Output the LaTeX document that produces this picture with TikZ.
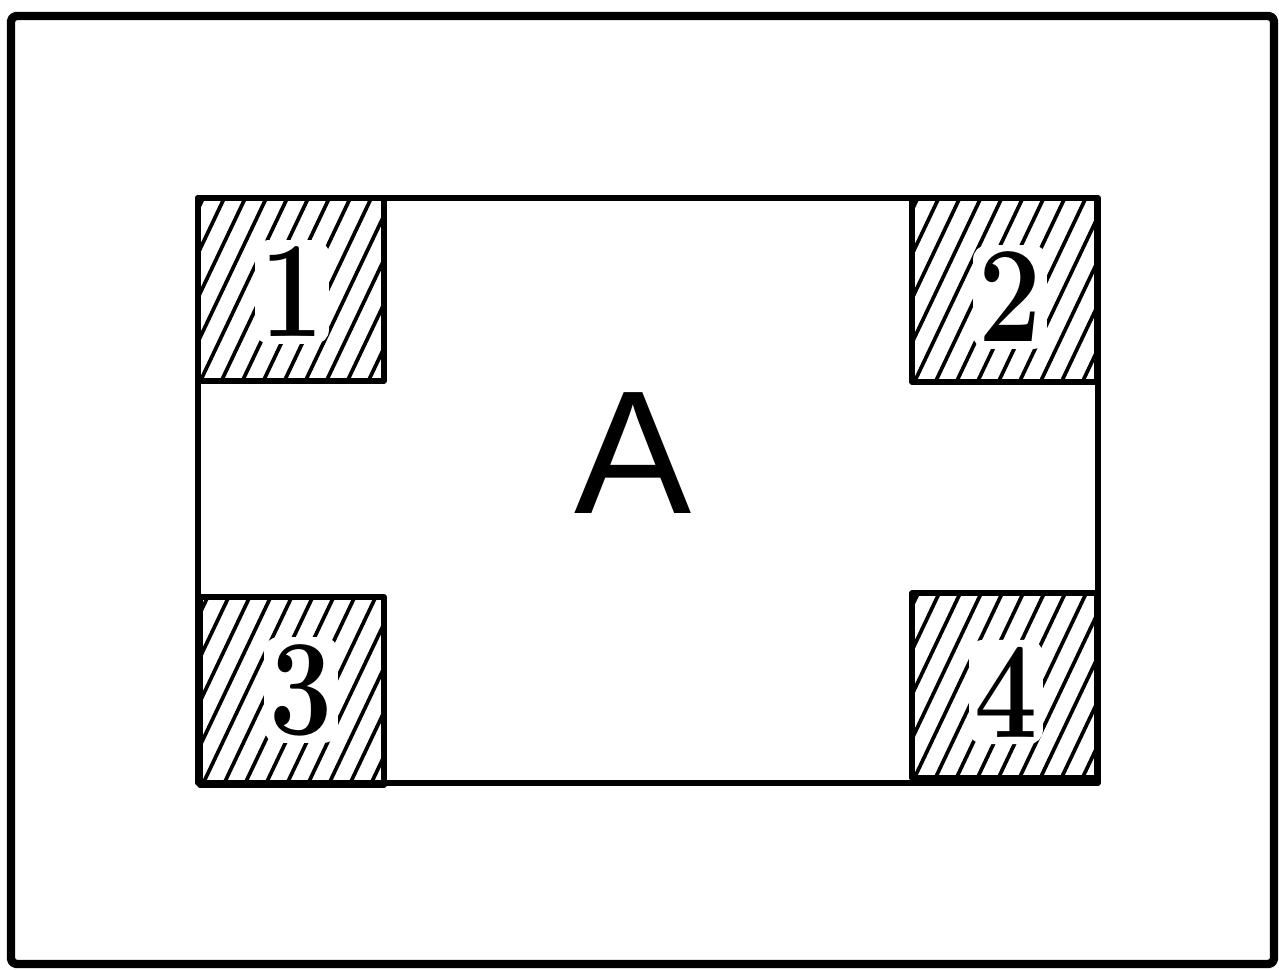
\documentclass[tikz,border=0pt]{standalone}
\usepackage{fontspec}
\usepackage{graphicx}
\newfontfamily\sansA{Liberation Sans}
\begin{document}
\begin{tikzpicture}[x=0.02cm,y=-0.02cm, line join=round, line cap=round,
  frameline/.style={line width=4.8pt},
  boxline/.style={line width=3.2pt},
  hatchline/.style={line width=2.1pt, line cap=butt},
  digit/.style={font=\fontsize{78}{78}\selectfont\bfseries, inner xsep=3pt, inner ysep=4pt, fill=white, rounded corners=8pt},
  bigA/.style={font=\sansA\fontsize{100}{100}\selectfont, inner sep=0pt}]
\useasboundingbox (0,0) rectangle (1279,970);
\fill[white] (0,0) rectangle (1279,970);
% outer frame
\draw[frameline, rounded corners=3pt] (11,16) rectangle (1274,964);
% hatched squares
\foreach \nm/\xa/\ya/\xb/\yb in {s1/198/198/384/381, s2/912/198/1097/382, s3/200/597/384/785, s4/912/593/1097/778}{
  \begin{scope}
    \clip (\xa,\ya) rectangle (\xb,\yb);
    \foreach \k in {-6,...,10}{
      \draw[hatchline] ({\xa+\k*21},{\yb+5}) -- ++(95,-200);
    }
  \end{scope}
}
% digits cut out of the hatching
\foreach \d/\px/\py in {1/292/292, 2/1010/297, 3/301/690, 4/1006/692}{
  \node[digit] (n\d) at (\px,\py) {\scalebox{0.82}[1]{\d}};
}
% outlines
\foreach \nm/\xa/\ya/\xb/\yb in {s1/198/198/384/381, s2/912/198/1097/382, s3/200/597/384/785, s4/912/593/1097/778}{
  \draw[boxline] (\xa,\ya) rectangle (\xb,\yb);
}
\draw[boxline] (198,198) rectangle (1098,783);
\node[bigA] (A) at (633,453) {A};
\end{tikzpicture}
\end{document}
